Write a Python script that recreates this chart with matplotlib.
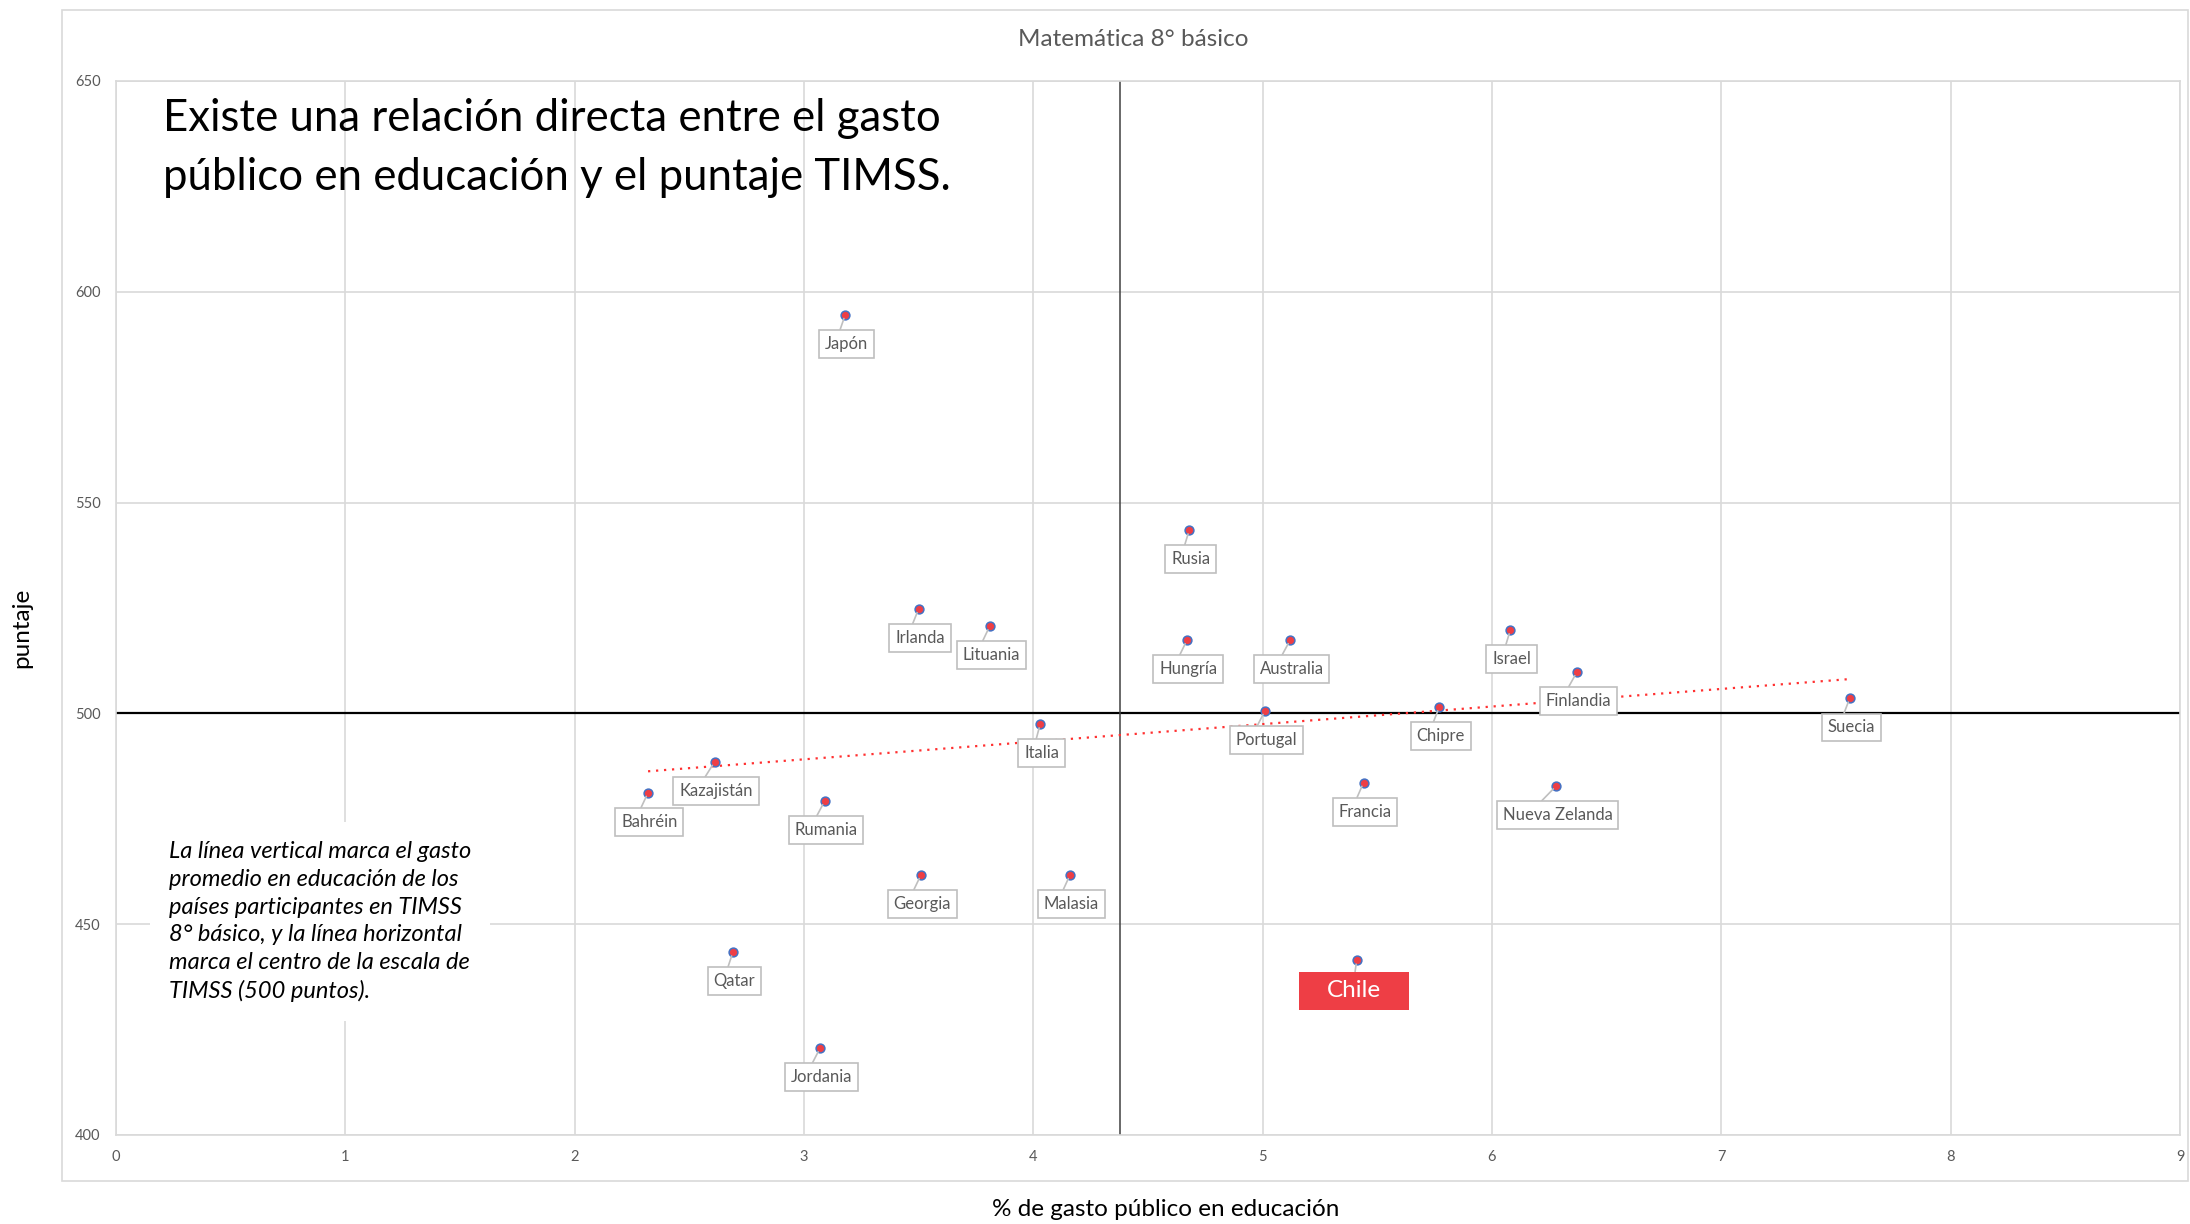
import matplotlib.pyplot as plt
import matplotlib.patches as mpatches
from matplotlib.path import Path
import numpy as np

plt.rcParams['font.family'] = ['Lato', 'DejaVu Sans']

# datos
paises = ["Japón", "Rusia", "Irlanda", "Lituania", "Hungría", "Australia", "Israel",
          "Finlandia", "Italia", "Portugal", "Chipre", "Suecia", "Kazajistán", "Bahréin",
          "Rumania", "Francia", "Nueva Zelanda", "Georgia", "Malasia", "Qatar",
          "Jordania", "Chile"]
gasto = [3.18, 4.68, 3.50, 3.81, 4.67, 5.12, 6.08, 6.37, 4.03, 5.01, 5.77, 7.56,
         2.61, 2.32, 3.09, 5.44, 6.28, 3.51, 4.16, 2.69, 3.07, 5.41]
puntaje = [594.6, 543.5, 524.8, 520.7, 517.4, 517.4, 519.8, 509.8, 497.5, 500.6, 501.5,
           503.6, 488.5, 481.2, 479.2, 483.6, 482.8, 461.7, 461.7, 443.4, 420.6, 441.5]
gasto_promedio = 4.38
centro_timss = 500

gris = '#595959'
gris_claro = '#d9d9d9'
rojo = '#ee3e45'
azul = '#4472c4'


def caja_chile(x0, y0, w, h, mutation_size):
    # caja mas ancha que alta, como la etiqueta de Excel
    px = 1.15 * mutation_size
    py = 0.35 * mutation_size
    xa, ya, xb, yb = x0 - px, y0 - py, x0 + w + px, y0 + h + py
    return Path([(xa, ya), (xb, ya), (xb, yb), (xa, yb), (xa, ya)], closed=True)


fig = plt.figure(figsize=(21.9, 12.24), dpi=100)
# marco exterior del grafico
fig.patches.append(mpatches.Rectangle((62 / 2190, 1 - 1181 / 1224), (2188 - 62) / 2190,
                                      (1181 - 10) / 1224, transform=fig.transFigure,
                                      fill=False, ec=gris_claro, lw=1.2))
ax = fig.add_axes([116 / 2190, 1 - 1135 / 1224, (2180 - 116) / 2190, (1135 - 81) / 1224])

ax.set_xlim(0, 9)
ax.set_ylim(400, 650)
ax.set_xticks(range(0, 10))
ax.set_yticks(range(400, 651, 50))
ax.grid(True, color=gris_claro, lw=1.2)
ax.set_axisbelow(True)
for s in ax.spines.values():
    s.set_color(gris_claro)
    s.set_linewidth(1.2)
ax.tick_params(length=0, colors=gris, labelsize=10.5, pad=11)

ax.axhline(centro_timss, color='black', lw=1.6, zorder=2)
ax.axvline(gasto_promedio, color='#404040', lw=1.1, zorder=2)

# linea de tendencia
m, b = np.polyfit(gasto, puntaje, 1)
xt = np.array([min(gasto), max(gasto)])
ax.plot(xt, m * xt + b, color='#ff3030', lw=1.6, ls=(0, (1, 2.6)), zorder=3)

ax.scatter(gasto, puntaje, s=40, color=rojo, edgecolor=azul, linewidth=1.1, zorder=5)

for nombre, x, y in zip(paises, gasto, puntaje):
    if nombre == "Chile":
        ax.annotate(nombre, xy=(x, y), xytext=(-2, -22), textcoords='offset points',
                    ha='center', va='center', fontsize=17.5, color='white',
                    bbox=dict(boxstyle=caja_chile, fc=rojo, ec='none'),
                    arrowprops=dict(arrowstyle='-', color='#bfbfbf', lw=1.2,
                                    relpos=(0.5, 1), shrinkA=0, shrinkB=3), zorder=6)
    else:
        ax.annotate(nombre, xy=(x, y), xytext=(1, -21), textcoords='offset points',
                    ha='center', va='center', fontsize=12, color=gris,
                    bbox=dict(boxstyle='square,pad=0.35', fc='white', ec='#bfbfbf', lw=1.2),
                    arrowprops=dict(arrowstyle='-', color='#bfbfbf', lw=1.2,
                                    relpos=(0.3, 1), shrinkA=0, shrinkB=3), zorder=6)

fig.text(1133 / 2190, 1 - 39 / 1224, "Matemática 8° básico", ha='center', va='center',
         fontsize=17.5, color=gris)
fig.text(1166 / 2190, 1 - 1209 / 1224, "% de gasto público en educación", ha='center',
         va='center', fontsize=17.5, color='black')
fig.text(22 / 2190, 1 - 628 / 1224, "puntaje", ha='center', va='center', rotation=90,
         fontsize=17.5, color='black')

fig.text(163 / 2190, 1 - 98 / 1224,
         "Existe una relación directa entre el gasto\npúblico en educación y el puntaje TIMSS.",
         ha='left', va='top', fontsize=31.5, color='black', linespacing=1.55)

ax.text(0.23, 450.6, "La línea vertical marca el gasto\npromedio en educación de los\n"
        "países participantes en TIMSS\n8° básico, y la línea horizontal\n"
        "marca el centro de la escala de\nTIMSS (500 puntos).",
        ha='left', va='center', fontsize=17, style='italic', color='black',
        linespacing=1.4,
        bbox=dict(boxstyle='square,pad=0.8', fc='white', ec='none'), zorder=4)

fig.savefig('out.png', dpi=100)
